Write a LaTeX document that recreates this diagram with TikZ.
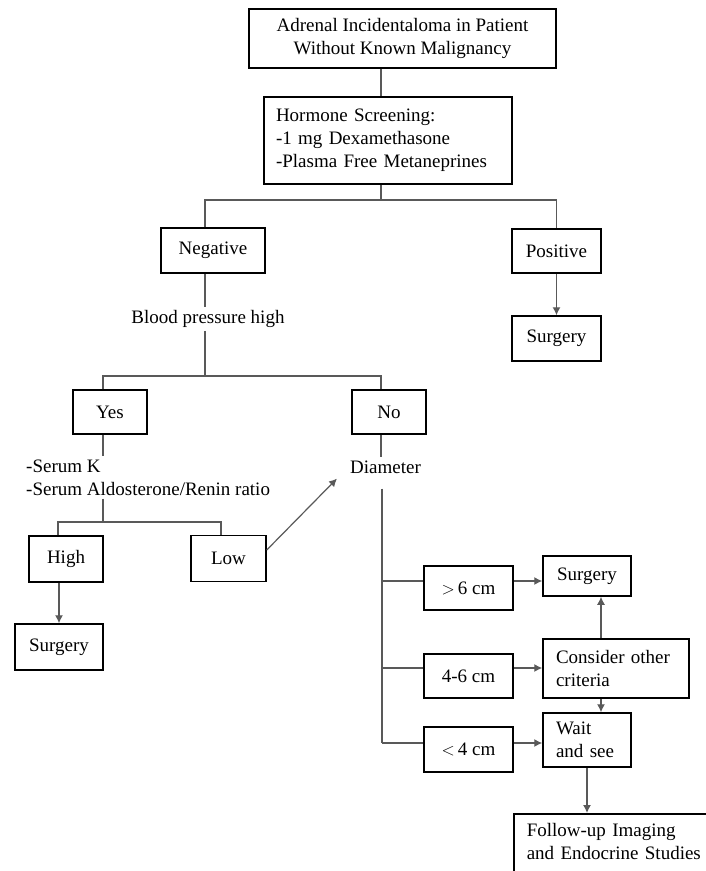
\documentclass[tikz,border=0pt]{standalone}
\usepackage{fontspec}
\setmainfont{Liberation Serif}
\usepackage{tikz}
\usetikzlibrary{arrows}
\usetikzlibrary{arrows.meta}

\begin{document}
\begin{tikzpicture}[x=1pt,y=1pt]
\tikzset{>={Latex[width=8pt,length=8pt]}}
\tikzstyle{box} =[draw, line width=1.5pt, inner sep=0pt, align=center, font=\fontsize{19}{23}\selectfont]
\tikzstyle{note} =[inner sep=3pt, align=left, font=\fontsize{19}{23}\selectfont]
\tikzstyle{wire} =[line width=1.2pt, black!65]

\clip (0,0) rectangle (706,-871);

% top of the tree
\node[box,minimum width=307,minimum height=59](lead) at (402.5,-38.5){Adrenal Incidentaloma in Patient\\Without Known Malignancy};
\node[box,align=left,text width=224pt,inner xsep=12pt,minimum height=87](screen) at (388,-140.5){Hormone Screening:\\-1 mg Dexamethasone\\-Plasma Free Metaneprines};
\node[box,minimum width=104,minimum height=45](neg) at (213,-250.5){Negative};
\node[box,minimum width=89,minimum height=44](pos) at (556.5,-251){Positive};
\node[box,minimum width=89,minimum height=45](surgA) at (556.5,-338.5){Surgery};
\node[note](bp) at (208,-319){Blood pressure high};

% blood pressure branch
\node[box,minimum width=74,minimum height=44](yes) at (110,-412){Yes};
\node[box,minimum width=74,minimum height=44](no) at (389,-412){No};
\node[note,anchor=west](serum) at (23,-477.5){-Serum K\\-Serum Aldosterone/Renin ratio};
\node[note](diam) at (385.5,-467){Diameter};
\node[box,minimum width=74,minimum height=46](high) at (66,-559){High};
\node[box,minimum width=75,minimum height=46](low) at (228.5,-558.5){Low};
\node[box,minimum width=88,minimum height=46](surgB) at (59,-647){Surgery};

% diameter branch
\node[box,minimum width=89,minimum height=44](gt6) at (468.5,-588){$>$\,6 cm};
\node[box,minimum width=89,minimum height=44](mid) at (468.5,-676){4-6 cm};
\node[box,minimum width=89,minimum height=45](lt4) at (468.5,-749.5){$<$\,4 cm};
\node[box,minimum width=88,minimum height=40](surgC) at (587,-576){Surgery};
\node[box,align=left,text width=120pt,inner xsep=13pt,minimum height=59](consider) at (616,-668.5){Consider other\\criteria};
\node[box,align=left,text width=62pt,inner xsep=13pt,minimum height=54](wait) at (587,-740){Wait\\and see};
\node[box,anchor=north west,align=left,text width=200pt,inner xsep=13pt,inner ysep=10pt](follow) at (513,-813){Follow-up Imaging\\and Endocrine Studies\\~};

\coordinate (s1) at (381,-200);
\coordinate (s2) at (205,-376);
\coordinate (s3) at (103,-522);
\coordinate (b1) at (382,-581);
\coordinate (b2) at (382,-668);
\coordinate (b3) at (382,-743);

\draw[wire] ([xshift=-21.5pt]lead.south) -- ([xshift=-21.5pt]lead.south |- screen.north);
\draw[wire] (screen.south -| s1) -- (s1);
\draw[wire] ([xshift=-8pt]neg.north) |- (s1) -| (pos.north);
\draw[wire,->] (pos.south) -- (surgA.north);
\draw[wire] ([xshift=-8pt]neg.south) -- ([xshift=-8pt]neg.south |- bp.north);

\draw[wire] (bp.south -| s2) -- (s2);
\draw[wire] ([xshift=-7pt]yes.north) |- (s2) -| ([xshift=-8pt]no.north);
\draw[wire] ([xshift=-7pt]yes.south) -- ([xshift=-7pt]yes.south |- serum.north);
\draw[wire] ([xshift=-8pt]no.south) -- ([xshift=-8pt]no.south |- diam.north);

\draw[wire] (serum.south -| s3) -- (s3);
\draw[wire] ([xshift=-8pt]high.north) |- (s3) -| ([xshift=-7.5pt]low.north);
\draw[wire,->] ([xshift=-7pt]high.south) -- ([xshift=-7pt]high.south |- surgB.north);
\draw[wire,->] ([yshift=8.5pt]low.east) -- ([xshift=-10pt,yshift=-2pt]diam.south west);

\draw[wire] ([yshift=-12pt]diam.south -| b1) -- (b3);
\draw[wire] (b1) -- (gt6.west |- b1);
\draw[wire] (b2) -- (mid.west |- b2);
\draw[wire] (b3) -- (lt4.west |- b3);
\draw[wire,->] (gt6.east |- b1) -- (surgC.west |- b1);
\draw[wire,->] (mid.east |- b2) -- (consider.west |- b2);
\draw[wire,->] (lt4.east |- b3) -- (wait.west |- b3);
\draw[wire,->] ([xshift=-15pt]consider.north) -- ([xshift=-15pt]consider.north |- surgC.south);
\draw[wire,->] ([xshift=-15pt]consider.south) -- ([xshift=-15pt]consider.south |- wait.north);
\draw[wire,->] (wait.south) -- (follow.north -| wait.south);

\end{tikzpicture}
\end{document}
